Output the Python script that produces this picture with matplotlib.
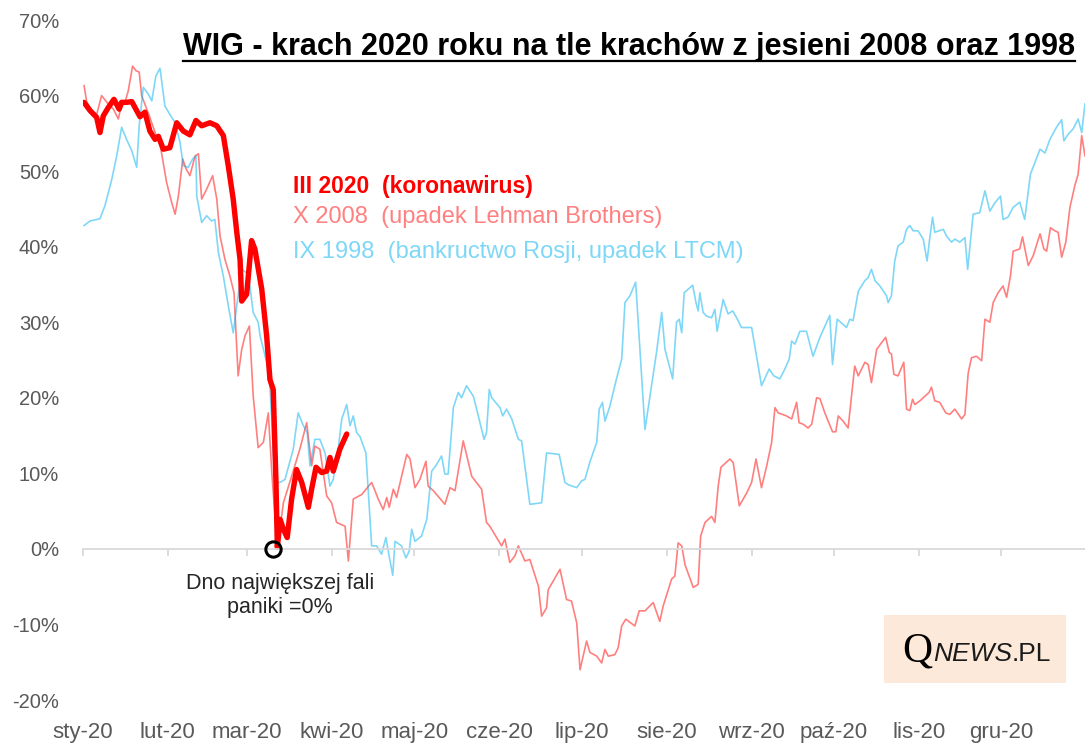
import matplotlib
matplotlib.use('Agg')
import matplotlib.pyplot as plt
from matplotlib.ticker import PercentFormatter
from matplotlib.patches import Rectangle
from matplotlib.lines import Line2D
from matplotlib.offsetbox import TextArea, HPacker, AnnotationBbox

plt.rcParams['font.family'] = ['Liberation Sans', 'DejaVu Sans']
plt.rcParams['axes.unicode_minus'] = False

# x = day of year 2020 (0 = 1 Jan), y = change in %
month_days = [0, 31, 60, 91, 121, 152, 182, 213, 244, 274, 305, 335]
month_labels = ['sty-20', 'lut-20', 'mar-20', 'kwi-20', 'maj-20', 'cze-20',
                'lip-20', 'sie-20', 'wrz-20', 'paź-20', 'lis-20', 'gru-20']

days_2020 = [0.5, 2.7, 5.1, 6.3, 7.5, 9.3, 11.4, 13.3, 14.2, 16.0, 17.9, 19.4, 20.9, 22.7,
             24.5, 26.4, 27.6, 29.4, 31.8, 34.3, 36.7, 39.1, 41.3, 43.4, 46.4, 48.9, 51.3,
             53.1, 54.9, 56.2, 57.4, 58.0, 59.8, 61.6, 62.8, 65.3, 67.1, 68.3, 69.5, 70.5,
             71.0, 72.0, 73.2, 74.6, 76.2, 78.0, 79.9, 82.3, 83.5, 85.1, 87.2, 89.0, 90.2,
             91.4, 93.8, 96.3]
wig_2020 = [59.1, 58.0, 57.1, 55.1, 57.3, 58.4, 59.5, 58.2, 59.1, 59.1, 59.2, 58.2, 57.2, 57.8,
            55.3, 54.2, 54.6, 52.9, 53.1, 56.4, 55.3, 54.8, 56.7, 56.0, 56.4, 56.0, 54.7,
            50.7, 46.3, 41.9, 38.3, 32.8, 33.7, 40.8, 39.7, 34.4, 28.2, 22.4, 21.1, 8.8,
            0.2, 3.9, 2.6, 1.5, 6.6, 10.5, 8.8, 5.5, 7.9, 10.8, 10.1, 10.3, 12.1,
            10.3, 13.2, 15.2]

days_2008 = [0.5, 1.5, 3.4, 5.1, 6.9, 8.8, 11.2, 13.0, 14.2, 15.4, 16.6, 18.2, 19.4, 20.6,
             21.5, 24.5, 26.4, 28.2, 30.6, 32.5, 33.7, 34.9, 36.5, 37.7, 39.1, 41.0, 42.2,
             43.4, 45.2, 47.4, 48.9, 50.1, 51.9, 53.7, 55.2, 56.7, 58.0, 59.2, 60.8, 62.2,
             64.0, 65.9, 67.7, 69.0, 71.0, 73.2, 76.2, 79.2, 81.7, 83.5, 84.7, 86.5, 89.0,
             90.8, 92.6, 95.7, 96.9, 98.7, 101.8, 105.4, 107.8, 109.6, 110.9, 111.8, 113.3,
             114.5, 118.2, 119.4, 121.2, 123.0, 125.2, 126.0, 127.9, 132.1, 134.0, 135.8,
             138.8, 141.9, 145.5, 147.3, 148.5, 152.8, 154.0, 155.8, 157.7, 158.9, 161.3,
             163.1, 166.2, 167.4, 169.2, 169.8, 174.1, 176.5, 178.3, 180.2, 181.4, 183.8,
             185.0, 187.5, 189.3, 190.5, 191.7, 194.1, 195.3, 196.6, 198.1, 201.4, 203.0,
             205.1, 208.1, 210.5, 211.7, 214.8, 216.0, 217.2, 218.5, 219.7, 222.7, 224.5,
             225.4, 227.0, 229.4, 230.6, 231.8, 232.8, 236.1, 237.3, 239.5, 242.2, 244.0,
             245.6, 247.6, 249.5, 251.3, 252.5, 253.7, 256.7, 258.6, 260.4, 261.3, 262.8,
             264.6, 265.9, 267.7, 268.9, 270.7, 273.5, 274.7, 275.6, 277.4, 279.2, 281.6,
             282.9, 285.3, 286.5, 287.7, 289.6, 291.4, 292.9, 294.2, 295.0, 295.9, 297.4,
             299.5, 300.5, 301.7, 302.7, 303.5, 305.4, 307.2, 308.7, 309.6, 310.8, 312.6,
             314.8, 316.3, 318.1, 320.6, 321.8, 323.0, 324.2, 326.0, 327.9, 329.1, 330.9,
             332.1, 333.9, 335.7, 337.0, 338.4, 339.4, 341.8, 342.8, 344.9, 346.7, 349.2,
             350.6, 351.6, 353.0, 354.6, 355.8, 357.1, 358.6, 360.1, 361.9, 363.1, 364.4,
             365.6]
wig_2008 = [61.3, 59.1, 58.0, 57.5, 60.0, 59.1, 58.2, 56.9, 58.9, 59.1, 60.6, 63.9, 63.3, 63.1,
            60.0, 57.1, 55.1, 53.6, 48.5, 45.8, 44.3, 46.7, 51.6, 50.3, 49.4, 52.0, 52.3,
            46.3, 47.6, 49.4, 46.3, 41.4, 38.3, 36.1, 33.9, 22.9, 26.4, 28.2, 29.5, 20.2,
            13.4, 14.1, 18.0, 10.0, 0.0, 6.1, 9.6, 13.2, 16.7, 11.0, 13.6, 13.2, 7.0,
            6.1, 3.5, 3.0, -1.6, 6.6, 7.2, 8.8, 6.6, 5.2, 6.8, 5.5, 7.9,
            6.8, 12.5, 11.9, 8.1, 9.2, 11.6, 8.3, 7.7, 5.9, 8.1, 7.7,
            14.3, 9.6, 7.9, 3.5, 3.0, 0.4, 1.3, -1.8, -0.9, 0.4, -1.6,
            -1.4, -4.9, -8.9, -7.8, -5.4, -2.7, -6.7, -6.9, -9.8, -16.0, -12.2,
            -13.7, -14.2, -15.1, -13.3, -14.2, -14.0, -13.1, -10.2, -9.3, -10.2, -8.2,
            -8.2, -7.1, -9.6, -7.6, -4.0, -3.6, 0.8, 0.4, -2.1, -5.1, -4.7,
            1.7, 3.5, 4.3, 3.5, 8.3, 10.8, 11.9, 11.4, 5.7, 7.4, 8.8,
            11.9, 8.1, 11.0, 14.1, 18.7, 18.0, 17.6, 17.2, 19.4, 16.7, 16.5,
            16.0, 16.5, 20.0, 19.9, 18.0, 15.5, 15.5, 17.6, 16.9, 16.0, 24.2,
            22.9, 24.7, 24.4, 22.0, 26.4, 27.3, 28.0, 26.0, 25.8, 23.1, 22.9,
            24.7, 18.5, 18.3, 19.8, 19.1, 19.6, 20.2, 20.7, 21.4, 19.6, 19.4,
            18.0, 17.8, 18.5, 17.2, 17.8, 23.3, 25.3, 25.5, 24.9, 30.4, 30.0,
            32.6, 33.9, 34.8, 33.3, 36.1, 39.4, 39.7, 41.3, 37.5, 38.8, 41.7,
            39.7, 39.4, 42.5, 42.1, 41.9, 38.6, 40.6, 45.2, 48.1, 49.6, 54.7,
            52.0]

days_1998 = [0.5, 2.7, 6.3, 8.1, 10.6, 12.4, 14.2, 16.0, 17.9, 19.7, 20.6, 22.1, 23.9, 25.2,
             26.7, 28.2, 30.0, 31.8, 33.7, 35.5, 36.7, 38.5, 40.1, 41.3, 41.6, 43.4, 45.2,
             47.0, 48.2, 49.5, 51.3, 53.1, 54.9, 56.2, 58.0, 60.4, 62.2, 64.0, 64.7, 67.1,
             68.3, 70.1, 72.0, 73.8, 76.8, 78.6, 80.5, 81.9, 82.9, 84.7, 86.5, 88.4, 90.2,
             91.4, 93.2, 94.5, 96.3, 97.5, 98.7, 99.9, 101.1, 103.3, 105.4, 107.2, 109.0,
             110.6, 111.8, 113.1, 113.9, 116.3, 117.9, 119.1, 120.0, 121.2, 123.6, 125.5,
             127.3, 128.8, 130.9, 132.1, 133.3, 135.2, 137.0, 138.2, 140.0, 142.5, 144.3,
             146.4, 147.3, 148.3, 149.2, 152.2, 153.2, 154.6, 156.5, 158.9, 160.1, 163.1,
             167.4, 169.2, 173.8, 175.9, 177.1, 180.2, 182.0, 183.2, 185.0, 187.5, 188.4,
             189.6, 190.5, 192.3, 194.7, 196.6, 197.8, 199.6, 201.7, 205.1, 207.5, 209.3,
             211.2, 212.4, 215.2, 216.6, 217.6, 218.5, 219.4, 222.5, 223.7, 224.5, 225.1,
             226.3, 227.6, 229.4, 230.6, 231.4, 233.6, 235.4, 237.1, 238.5, 240.3, 244.0,
             245.8, 247.6, 250.4, 252.1, 254.3, 256.1, 257.7, 258.6, 259.8, 261.6, 264.0,
             266.4, 268.9, 272.5, 273.5, 275.2, 278.6, 279.8, 281.0, 282.9, 285.3, 286.5,
             287.7, 289.0, 290.8, 293.2, 293.8, 295.0, 296.2, 297.4, 299.3, 300.5, 301.7,
             302.9, 304.7, 306.6, 308.0, 309.0, 310.0, 310.8, 313.9, 315.1, 316.9, 318.1,
             319.9, 321.8, 322.8, 324.8, 327.2, 329.1, 330.9, 332.7, 334.8, 335.7, 337.5,
             339.4, 341.8, 343.6, 345.7, 347.3, 349.2, 351.0, 352.8, 355.2, 357.1, 357.9,
             359.5, 361.3, 363.1, 364.4, 365.6]
wig_1998 = [42.8, 43.4, 43.7, 45.4, 48.9, 52.0, 55.8, 54.2, 52.7, 50.5, 56.0, 61.1, 60.2, 59.3,
            62.6, 63.6, 58.6, 57.5, 56.4, 53.8, 50.7, 50.5, 51.6, 52.0, 46.7, 43.2, 44.1,
            43.4, 43.6, 39.2, 36.1, 32.2, 28.6, 32.2, 37.0, 36.4, 31.3, 30.0, 28.2, 24.7,
            21.6, 8.8, 8.8, 9.2, 13.2, 18.0, 16.3, 15.4, 11.0, 14.5, 14.5, 12.7, 8.3,
            9.2, 13.2, 17.2, 19.1, 16.3, 17.6, 15.4, 14.9, 12.7, 0.4, 0.4, -0.7,
            1.5, -1.0, -3.5, 1.0, 0.4, -1.2, -0.3, 2.6, 1.0, 1.7, 3.9,
            10.3, 11.0, 12.3, 9.9, 9.9, 18.7, 20.7, 20.0, 21.6, 20.2, 17.6,
            14.5, 15.4, 21.1, 20.0, 18.7, 17.6, 18.5, 17.2, 14.5, 14.3, 5.9,
            6.1, 12.7, 12.5, 8.8, 8.5, 8.1, 9.0, 9.2, 11.5, 14.1, 18.5,
            19.4, 16.9, 18.9, 22.5, 25.1, 32.6, 33.5, 35.3, 15.8, 21.6, 26.0,
            31.3, 26.4, 22.5, 30.0, 30.4, 28.6, 33.9, 34.9, 32.6, 31.5, 33.9,
            31.3, 30.8, 30.6, 31.7, 28.8, 33.0, 31.1, 31.5, 30.6, 29.3, 29.3,
            25.5, 21.6, 23.8, 22.9, 22.5, 23.8, 25.1, 27.5, 27.1, 28.8, 28.8,
            25.5, 28.0, 30.9, 24.4, 30.4, 29.3, 30.4, 30.2, 34.1, 35.5, 35.9,
            37.0, 35.5, 34.8, 33.5, 32.6, 33.5, 38.1, 40.1, 40.6, 42.3, 42.8,
            42.1, 42.1, 41.0, 38.1, 41.2, 43.9, 41.9, 42.3, 41.4, 40.6, 41.0,
            40.6, 41.2, 37.0, 44.3, 44.5, 47.4, 44.7, 45.8, 46.7, 43.6, 43.9,
            45.2, 45.9, 43.6, 49.6, 51.1, 52.9, 52.4, 54.2, 55.8, 56.8, 54.0,
            54.9, 55.6, 56.9, 55.1, 58.9]

bottom_day = 69.5
bottom_val = 0

fig = plt.figure(figsize=(10.85, 7.45), dpi=100)
ax = fig.add_axes([82.7 / 1085, 45 / 745, 1002.3 / 1085, 680 / 745])

ax.plot(days_2008, wig_2008, color='#ff0000', alpha=0.5, lw=1.2)
ax.plot(days_1998, wig_1998, color='#00b0f0', alpha=0.5, lw=1.2)
ax.plot(days_2020, wig_2020, color='#ff0000', lw=3.9, solid_joinstyle='round', solid_capstyle='round')
ax.plot(bottom_day, bottom_val, marker='o', ms=11, mfc='none', mec='black', mew=2.2, zorder=5)

ax.set_xlim(0, 365.6)
ax.set_ylim(-20, 70)
ax.set_yticks(range(-20, 71, 10))
ax.yaxis.set_major_formatter(PercentFormatter(decimals=0))
ax.tick_params(axis='y', length=0, pad=17, labelsize=14.5, labelcolor='#595959')

for s in ['top', 'right', 'left']:
    ax.spines[s].set_visible(False)
ax.spines['bottom'].set_position(('data', 0))
ax.spines['bottom'].set_color('#d9d9d9')
ax.spines['bottom'].set_linewidth(1.3)
ax.set_xticks(month_days)
ax.tick_params(axis='x', direction='out', length=5, width=1.3, color='#d9d9d9', labelbottom=False)

sec = ax.secondary_xaxis('bottom')
sec.set_xticks(month_days, month_labels)
sec.tick_params(length=0, pad=16, labelsize=16, labelcolor='#595959')
sec.spines['bottom'].set_visible(False)

# legend written as coloured text
fig.text(0.27, 0.750, 'III 2020  (koronawirus)', color='#ff0000', fontsize=16.5,
         fontweight='bold', va='center')
fig.text(0.27, 0.709, 'X 2008  (upadek Lehman Brothers)', color='#ff8080', fontsize=17, va='center')
fig.text(0.27, 0.662, 'IX 1998  (bankructwo Rosji, upadek LTCM)', color='#7fd7f7', fontsize=17,
         va='center')

ax.text(72, -6.2, 'Dno największej fali\npaniki =0%', ha='center', va='center',
        fontsize=15.5, color='#262626', linespacing=1.2)

title = fig.text(1075 / 1085, 1 - 47 / 745, 'WIG - krach 2020 roku na tle krachów z jesieni 2008 oraz 1998',
                 ha='right', va='center', fontsize=22, fontweight='bold', color='black')
fig.canvas.draw()
bb = title.get_window_extent().transformed(fig.transFigure.inverted())
fig.add_artist(Line2D([bb.x0, bb.x1], [bb.y0 + 0.002, bb.y0 + 0.002], color='black', lw=1.6,
                      transform=fig.transFigure))

# logo
fig.patches.append(Rectangle((884 / 1085, 1 - 683 / 745), 182 / 1085, 68 / 745,
                             transform=fig.transFigure, facecolor='#fde9d9', edgecolor='none'))
logo = HPacker(children=[
    TextArea('Q', textprops=dict(fontsize=30, family='Liberation Serif', color='black')),
    TextArea('NEWS', textprops=dict(fontsize=19, style='italic', color='#1a1a1a')),
    TextArea('.PL', textprops=dict(fontsize=19, color='#1a1a1a')),
], align='baseline', pad=0, sep=0)
fig.add_artist(AnnotationBbox(logo, (977 / 1085, 1 - 651 / 745), xycoords='figure fraction',
                              frameon=False))

fig.savefig('out.png', dpi=100)
